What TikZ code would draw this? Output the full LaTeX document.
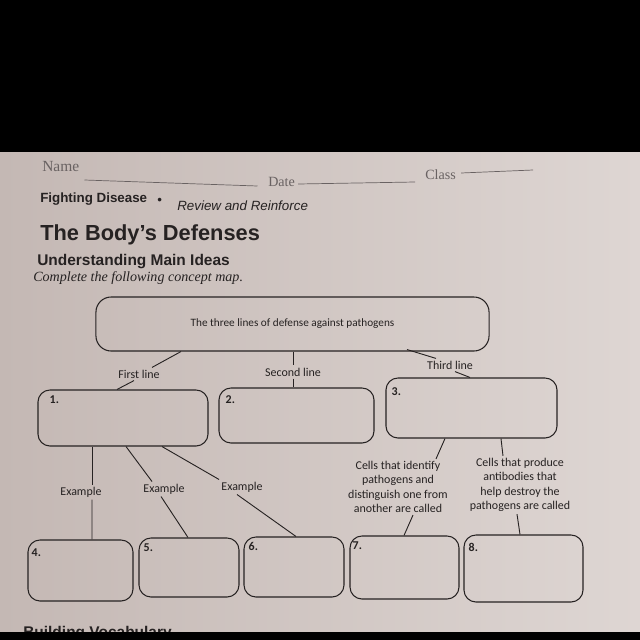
\documentclass[tikz,border=0pt]{standalone}
\usepackage{fontspec}
\setmainfont{Liberation Serif}
\newfontfamily\mapfont{Carlito}
\newfontfamily\headfont{Liberation Sans}
\usepackage{xcolor}
\usetikzlibrary{calc, positioning}

\definecolor{ink}{RGB}{38,34,34}
\definecolor{pencil}{RGB}{105,98,98}
\definecolor{paperL}{RGB}{196,184,180}
\definecolor{paperR}{RGB}{222,214,211}

\begin{document}
\begin{tikzpicture}[
    x=0.025cm, y=-0.025cm,
    box/.style={draw=ink, line width=0.75pt, rounded corners=0.3cm, inner sep=0pt, align=center},
    lbl/.style={font=\mapfont\fontsize{8.5}{10.2}\selectfont, text=ink, inner sep=1.5pt, align=center},
    num/.style={font=\mapfont\bfseries\fontsize{8.5}{10}\selectfont, text=ink, inner sep=0pt, anchor=north west},
    link/.style={draw=ink, line width=0.65pt},
    head/.style={anchor=base west, inner sep=0pt, text=ink}
]
\useasboundingbox (0,0) rectangle (640,640);
\clip (0,0) rectangle (640,640);

% paper and the dark edges of the photo
\shade[left color=paperL, right color=paperR] (0,150) rectangle (640,634);

% header of the sheet
\node[head, text=pencil, font=\fontsize{11}{13}\selectfont] (name) at (42,171) {Name};
\node[head, text=pencil, font=\fontsize{10}{12}\selectfont] (date) at (268,186) {Date};
\node[head, text=pencil, font=\fontsize{10}{12}\selectfont] (class) at (425,179) {Class};
\draw[pencil, line width=0.5pt] ($(name.base east)+(5,9)$) -- ++(173,6);
\draw[pencil, line width=0.5pt] ($(date.base east)+(3,-2)$) -- ++(117,-2);
\draw[pencil, line width=0.5pt] ($(class.base east)+(5,-6)$) -- ++(72,-3);

\node[head, font=\headfont\bfseries\fontsize{9.5}{11}\selectfont] (topic) at (40,202) {Fighting Disease};
\node[head, font=\headfont\fontsize{9.5}{11}\selectfont] (dot) at (157,204) {•};
\node[head, font=\headfont\itshape\fontsize{9.5}{11}\selectfont] (review) at (177,210) {Review and Reinforce};
\node[head, font=\headfont\bfseries\fontsize{15.5}{18}\selectfont] (title) at (40,240) {The Body’s Defenses};
\node[head, font=\headfont\bfseries\fontsize{11}{13}\selectfont] (ideas) at (37,265) {Understanding Main Ideas};
\node[head, font=\itshape\fontsize{10}{12}\selectfont] (task) at (33,281) {Complete the following concept map.};
\node[head, font=\headfont\bfseries\fontsize{11}{13}\selectfont] (vocab) at (23,637) {Building Vocabulary};

% concept map boxes
\node[box, rounded corners=0.38cm, minimum width=9.825cm, minimum height=1.35cm,
      font=\mapfont\fontsize{8}{10}\selectfont, text=ink] (top) at (292.5,324) {The three lines of defense against pathogens};
\node[box, minimum width=4.25cm, minimum height=1.4cm] (box1) at (123,418) {};
\node[box, minimum width=3.875cm, minimum height=1.375cm] (box2) at (296.5,415.5) {};
\node[box, minimum width=4.275cm, minimum height=1.5cm] (box3) at (471.5,408) {};
\node[box, minimum width=2.625cm, minimum height=1.525cm] (box4) at (80.5,570.5) {};
\node[box, minimum width=2.5cm, minimum height=1.475cm] (box5) at (189,567.5) {};
\node[box, minimum width=2.5cm, minimum height=1.5cm] (box6) at (294,567) {};
\node[box, minimum width=2.725cm, minimum height=1.575cm] (box7) at (404.5,567.5) {};
\node[box, minimum width=2.975cm, minimum height=1.675cm] (box8) at (523.5,568.5) {};

\node[num] (n1) at ($(box1.north west)+(12,6)$) {1.};
\node[num] (n2) at ($(box2.north west)+(7,8)$) {2.};
\node[num] (n3) at ($(box3.north west)+(6,10)$) {3.};
\node[num] (n4) at ($(box4.north west)+(4,9)$) {4.};
\node[num] (n5) at ($(box5.north west)+(5,6)$) {5.};
\node[num] (n6) at ($(box6.north west)+(5,6)$) {6.};
\node[num] (n7) at ($(box7.north west)+(3,6)$) {7.};
\node[num] (n8) at ($(box8.north west)+(5,8)$) {8.};

% connector labels
\node[lbl] (first) at (139,374) {First line};
\node[lbl] (second) at (293,372) {Second line};
\node[lbl] (third) at (450,365) {Third line};
\node[lbl] (ex1) at (81,492) {Example};
\node[lbl] (ex2) at (164,489) {Example};
\node[lbl] (ex3) at (242,487) {Example};
\node[lbl] (cellsA) at (398,487) {Cells that identify\\pathogens and\\distinguish one from\\another are called};
\node[lbl] (cellsB) at (520,485) {Cells that produce\\antibodies that\\help destroy the\\pathogens are called};

% connectors
\draw[link] ($(top.south)+(-111.5,0)$) -- ($(first.north)+(13,0)$);
\draw[link] ($(first.south)+(-5,0)$) -- ($(box1.north)+(-6,0)$);
\draw[link] (top.south -| second.north) -- (second.north);
\draw[link] (second.south) -- (second.south |- box2.north);
\draw[link] ($(top.south)+(114.5,-2)$) -- ($(third.north)+(-14,0)$);
\draw[link] ($(third.south)+(5,0)$) -- ($(box3.north)+(-1.5,0)$);

\draw[link] ($(box1.south)+(-31,0)$) -- ($(ex1.north)+(11,0)$);
\draw[link] ($(ex1.south)+(11,0)$) -- ($(box4.north)+(11.5,0)$);
\draw[link] ($(box1.south)+(3,0)$) -- ($(ex2.north)+(-12,0)$);
\draw[link] ($(ex2.south)+(-3,0)$) -- ($(box5.north)+(-1,0)$);
\draw[link] ($(box1.south)+(39,0)$) -- (ex3.north west);
\draw[link] ($(ex3.south)+(-5,0)$) -- ($(box6.north)+(2,0)$);

\draw[link] ($(box3.south)+(-26.5,0)$) -- ($(cellsA.north)+(38,0)$);
\draw[link] ($(cellsA.south)+(15,0)$) -- ($(box7.north)+(-0.5,0)$);
\draw[link] ($(box3.south)+(29.5,0)$) -- ($(cellsB.north)+(-17,0)$);
\draw[link] ($(cellsB.south)+(-3,0)$) -- ($(box8.north)+(-3.5,0)$);

\fill[black] (0,0) rectangle (640,152);
\fill[black] (0,632) rectangle (640,640);
\end{tikzpicture}
\end{document}
